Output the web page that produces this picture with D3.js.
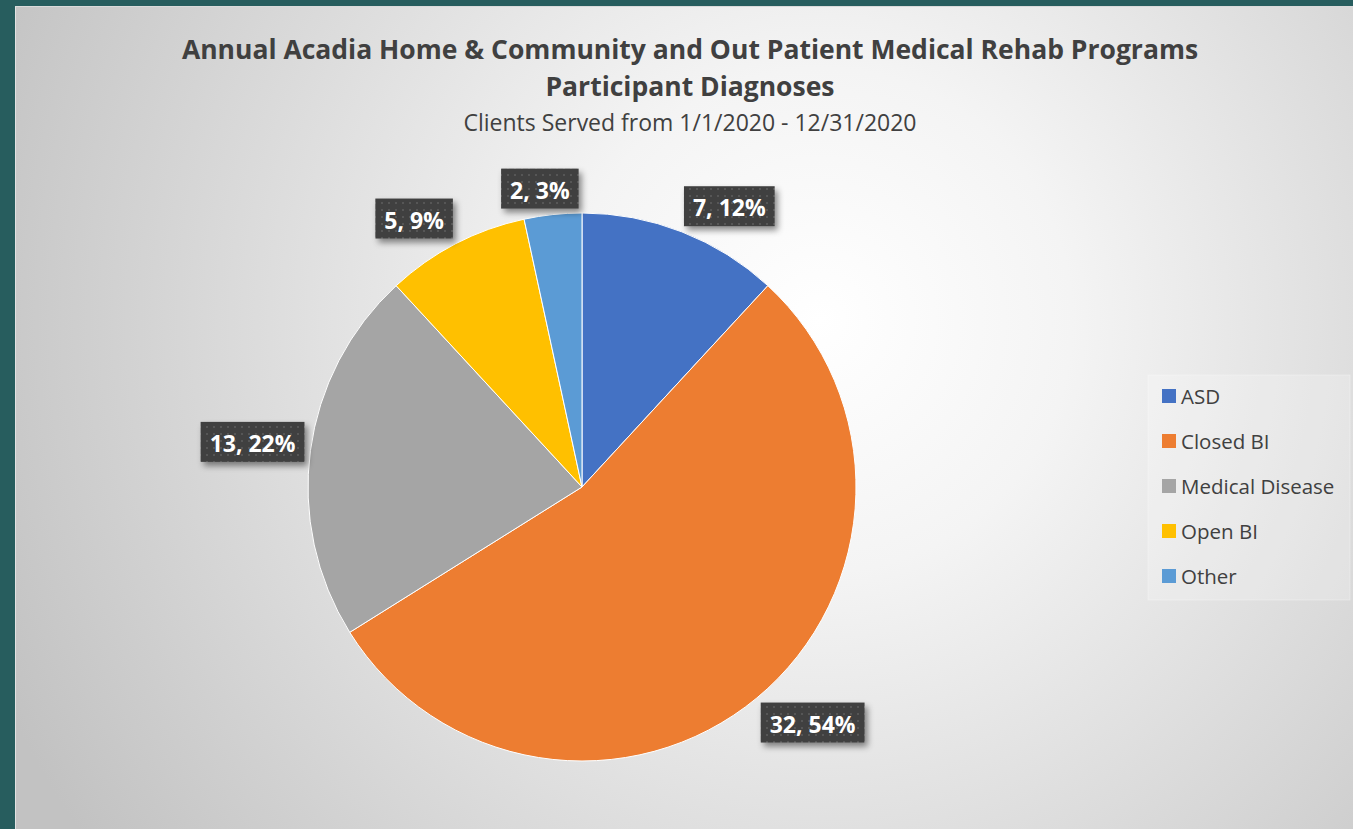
<!DOCTYPE html>
<html>
<head>
<meta charset="utf-8">
<script src="https://cdn.jsdelivr.net/npm/d3@7"></script>
<style>
  html, body { margin: 0; padding: 0; background: #275d5e; }
  svg { display: block; }
</style>
</head>
<body>
<div class="chart"></div>
<script>
const width = 1353;
const height = 829;

// data
const categories = ["ASD", "Closed BI", "Medical Disease", "Open BI", "Other"];
const counts = [7, 32, 13, 5, 2];
const percents = ["12%", "54%", "22%", "9%", "3%"];
const colors = ["#4472C4", "#ED7D31", "#A5A5A5", "#FFC000", "#5B9BD5"];

const titleLines = ["Annual Acadia Home & Community and Out Patient Medical Rehab Programs",
                    "Participant Diagnoses"];
const subtitle = "Clients Served from 1/1/2020 - 12/31/2020";

const cx = 582, cy = 487, radius = 274;

const svg = d3.select('.chart')
    .append('svg')
    .attr("width", width)
    .attr("height", height);

const defs = svg.append("defs");

// background of the chart area
const bg = defs.append("radialGradient")
    .attr("id", "bg")
    .attr("gradientUnits", "userSpaceOnUse")
    .attr("cx", 820).attr("cy", 320).attr("r", 900);
bg.append("stop").attr("offset", "0%").attr("stop-color", "#ffffff");
bg.append("stop").attr("offset", "28%").attr("stop-color", "#f4f4f4");
bg.append("stop").attr("offset", "100%").attr("stop-color", "#c2c2c2");

// dotted fill for data labels
const pat = defs.append("pattern")
    .attr("id", "dots")
    .attr("patternUnits", "userSpaceOnUse")
    .attr("width", 7).attr("height", 7);
pat.append("rect").attr("width", 7).attr("height", 7).attr("fill", "#404040");
pat.append("rect").attr("x", 2).attr("y", 2).attr("width", 2).attr("height", 2).attr("fill", "#575757");

const shadow = defs.append("filter")
    .attr("id", "shadow")
    .attr("x", "-20%").attr("y", "-30%").attr("width", "150%").attr("height", "180%");
shadow.append("feDropShadow")
    .attr("dx", 3).attr("dy", 4).attr("stdDeviation", 3)
    .attr("flood-color", "#000").attr("flood-opacity", 0.45);

svg.append("rect")
    .attr("width", width).attr("height", height)
    .attr("fill", "#275d5e");

svg.append("rect")
    .attr("x", 15).attr("y", 6)
    .attr("width", width - 15).attr("height", height - 6)
    .attr("fill", "url(#bg)");
svg.append("line")
    .attr("x1", 15.5).attr("x2", 15.5).attr("y1", 6).attr("y2", height)
    .attr("stroke", "#e2e2e2").attr("stroke-width", 1);
svg.append("line")
    .attr("x1", 15).attr("x2", width).attr("y1", 6.5).attr("y2", 6.5)
    .attr("stroke", "#dadada").attr("stroke-width", 1);

// titles
const font = "'Open Sans', 'Noto Sans', sans-serif";
svg.selectAll(".title")
    .data(titleLines)
    .enter()
    .append("text")
    .attr("class", "title")
    .attr("x", 690)
    .attr("y", (d, i) => 59 + i * 37)
    .attr("text-anchor", "middle")
    .attr("font-family", font)
    .attr("font-weight", "bold")
    .attr("font-size", 26.5)
    .attr("fill", "#404040")
    .text(d => d);

svg.append("text")
    .attr("x", 690)
    .attr("y", 131)
    .attr("text-anchor", "middle")
    .attr("font-family", font)
    .attr("font-size", 23)
    .attr("fill", "#404040")
    .text(subtitle);

// pie
const pie = d3.pie().sort(null).value(d => d);
const arcs = pie(counts);
const arc = d3.arc().innerRadius(0).outerRadius(radius);

const g = svg.append("g").attr("transform", `translate(${cx},${cy})`);

g.selectAll("path")
    .data(arcs)
    .enter()
    .append("path")
    .attr("d", arc)
    .attr("fill", (d, i) => colors[i])
    .attr("stroke", "#ffffff")
    .attr("stroke-width", 1);

// data labels, anchored just outside each slice
const labels = g.selectAll(".lbl")
    .data(arcs)
    .enter()
    .append("g")
    .attr("class", "lbl");

const boxH = 40;
labels.each(function(d, i) {
    const sel = d3.select(this);
    const txt = sel.append("text")
        .attr("font-family", font)
        .attr("font-weight", "bold")
        .attr("font-size", 23)
        .attr("fill", "#ffffff")
        .attr("text-anchor", "middle")
        .attr("dominant-baseline", "central")
        .text(counts[i] + ", " + percents[i]);
    const w = txt.node().getComputedTextLength() + 18;
    const a = (d.startAngle + d.endAngle) / 2;
    const ax = Math.sin(a) * (radius + 6);
    const ay = -Math.cos(a) * (radius + 6);
    const clamp = v => Math.max(-1, Math.min(1, v));
    const mx = ax + (w / 2) * clamp(Math.sin(a) * 3);
    const my = ay - (boxH / 2) * clamp(Math.cos(a) * 3);
    sel.insert("rect", "text")
        .attr("x", mx - w / 2)
        .attr("y", my - boxH / 2)
        .attr("width", w)
        .attr("height", boxH)
        .attr("fill", "url(#dots)")
        .attr("filter", "url(#shadow)");
    txt.attr("x", mx).attr("y", my + 1);
});

// legend
const legend = svg.append("g");
legend.append("rect")
    .attr("x", 1148).attr("y", 375)
    .attr("width", 202).attr("height", 225)
    .attr("fill", "#ffffff").attr("fill-opacity", 0.22)
    .attr("stroke", "#ffffff").attr("stroke-opacity", 0.3);

const items = legend.selectAll(".item")
    .data(categories)
    .enter()
    .append("g")
    .attr("class", "item")
    .attr("transform", (d, i) => `translate(1162, ${396 + i * 45})`);

items.append("rect")
    .attr("x", 0).attr("y", -7)
    .attr("width", 14).attr("height", 14)
    .attr("fill", (d, i) => colors[i]);

items.append("text")
    .attr("x", 19)
    .attr("y", 0)
    .attr("dominant-baseline", "central")
    .attr("font-family", font)
    .attr("font-size", 20.5)
    .attr("fill", "#404040")
    .text(d => d);
</script>
</body>
</html>
